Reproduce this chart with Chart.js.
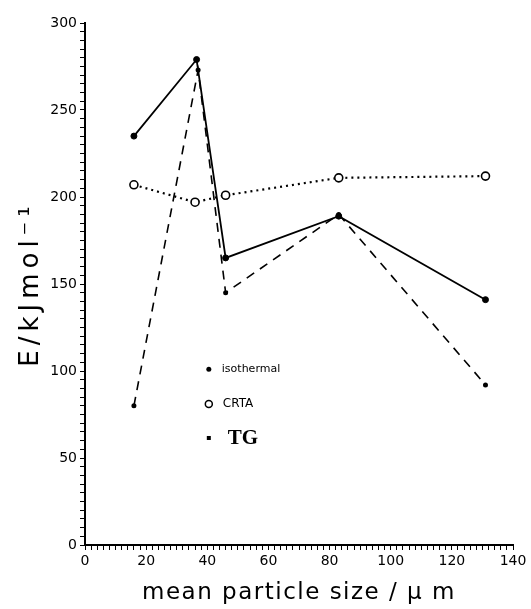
<!DOCTYPE html>
<html>
<head>
<meta charset="utf-8">
<script src="https://cdn.jsdelivr.net/npm/chart.js@4"></script>
<style>
  html, body { margin: 0; padding: 0; background: #fff; }
  #wrap { width: 531px; height: 609px; }
</style>
</head>
<body>
<div id="wrap"><canvas id="chart" width="531" height="609"></canvas></div>
<script>
// particle sizes (um) and activation energies (kJ/mol)
const isoX = [16, 36.5, 46, 83, 131];
const isoE = [235, 279, 165, 189, 141];
const crtaX = [16, 36, 46, 83, 131];
const crtaE = [207, 197, 201, 211, 212];
const tgX = [16, 37, 46, 83, 131];
const tgE = [80, 273, 145, 190, 92];

const xTicks = [0, 20, 40, 60, 80, 100, 120, 140];
const yTicks = [0, 50, 100, 150, 200, 250, 300];

function pts(xs, ys) {
    return xs.map((x, i) => ({ x: x, y: ys[i] }));
}

// the scanned figure uses a wide lettering for the axis titles
const titleSpacing = {
    id: 'titleSpacing',
    afterLayout(chart) {
        const spacing = { x: '1.5px', y: '5px' };
        Object.keys(spacing).forEach(id => {
            const scale = chart.scales[id];
            if (!scale || scale._spaced) return;
            const orig = scale.drawTitle.bind(scale);
            scale.drawTitle = function() {
                const c = this.ctx;
                const prev = c.letterSpacing;
                c.letterSpacing = spacing[id];
                orig();
                c.letterSpacing = prev;
            };
            scale._spaced = true;
        });
    }
};

// hand-drawn style legend inside the plot, anchored to data coordinates
const legendPlugin = {
    id: 'inlineLegend',
    afterDraw(chart) {
        const ctx = chart.ctx;
        const xs = chart.scales.x, ys = chart.scales.y;
        const mx = xs.getPixelForValue(40.5);
        ctx.save();
        ctx.fillStyle = '#000';
        ctx.strokeStyle = '#000';
        ctx.textBaseline = 'middle';

        let y = ys.getPixelForValue(101);
        ctx.beginPath();
        ctx.arc(mx, y, 2.5, 0, Math.PI * 2);
        ctx.fill();
        ctx.font = '11px "DejaVu Sans"';
        ctx.fillText('isothermal', mx + 13, y);

        y = ys.getPixelForValue(81);
        ctx.beginPath();
        ctx.lineWidth = 1.5;
        ctx.arc(mx, y, 3.5, 0, Math.PI * 2);
        ctx.stroke();
        ctx.font = '12px "DejaVu Sans"';
        ctx.fillText('CRTA', mx + 14, y);

        y = ys.getPixelForValue(61.5);
        ctx.fillRect(mx - 2, y - 2, 4, 4);
        ctx.font = 'bold 21px "Liberation Serif"';
        ctx.fillText('TG', mx + 19, y + 1);
        ctx.restore();
    }
};

const ctx = document.getElementById('chart').getContext('2d');
new Chart(ctx, {
    type: 'scatter',
    data: {
        datasets: [{
            label: 'isothermal',
            data: pts(isoX, isoE),
            showLine: true,
            borderColor: '#000',
            backgroundColor: '#000',
            borderWidth: 1.8,
            pointRadius: 3,
            pointBorderWidth: 1,
            tension: 0
        }, {
            label: 'CRTA',
            data: pts(crtaX, crtaE),
            showLine: true,
            borderColor: '#000',
            backgroundColor: '#fff',
            borderWidth: 2.2,
            borderDash: [2, 4],
            pointRadius: 4,
            pointBorderWidth: 1.6,
            tension: 0
        }, {
            label: 'TG',
            data: pts(tgX, tgE),
            showLine: true,
            borderColor: '#000',
            backgroundColor: '#000',
            borderWidth: 1.6,
            borderDash: [9, 7],
            pointRadius: 2.5,
            pointBorderWidth: 0,
            tension: 0
        }]
    },
    options: {
        responsive: false,
        animation: false,
        layout: { padding: { left: 0, right: 18, top: 23, bottom: 0 } },
        plugins: {
            legend: { display: false },
            tooltip: { enabled: false }
        },
        scales: {
            x: {
                type: 'linear',
                min: 0,
                max: 140,
                afterFit(scale) { scale.height = 64; },
                ticks: {
                    stepSize: 2,
                    autoSkip: false,
                    maxRotation: 0,
                    color: '#000',
                    padding: 3,
                    font: { family: 'DejaVu Sans', size: 14 },
                    callback: v => xTicks.includes(v) ? String(v) : ''
                },
                grid: {
                    drawOnChartArea: false,
                    drawTicks: true,
                    tickLength: 5,
                    tickColor: '#000',
                    tickWidth: 1
                },
                border: { display: true, color: '#000', width: 2 },
                title: {
                    display: true,
                    text: 'mean particle size / \u03bc m',
                    color: '#000',
                    font: { family: 'DejaVu Sans', size: 23 },
                    padding: { top: 0, bottom: 2 }
                }
            },
            y: {
                type: 'linear',
                min: 0,
                max: 300,
                afterFit(scale) { scale.width = 85; },
                ticks: {
                    stepSize: 5,
                    autoSkip: false,
                    color: '#000',
                    padding: 3,
                    font: { family: 'DejaVu Sans', size: 14 },
                    callback: v => yTicks.includes(v) ? String(v) : ''
                },
                grid: {
                    drawOnChartArea: false,
                    drawTicks: true,
                    tickLength: 5,
                    tickColor: '#000',
                    tickWidth: 1
                },
                border: { display: true, color: '#000', width: 2 },
                title: {
                    display: true,
                    text: 'E/kJmol\u207b\u00b9',
                    color: '#000',
                    font: { family: 'DejaVu Sans', size: 26 },
                    padding: { top: 16, bottom: 0 }
                }
            }
        }
    },
    plugins: [titleSpacing, legendPlugin]
});
</script>
</body>
</html>
